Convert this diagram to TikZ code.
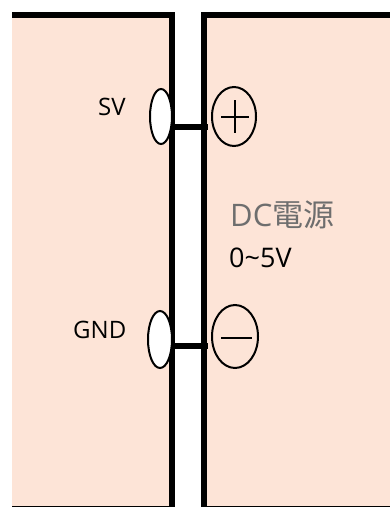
\documentclass[tikz,border=0pt]{standalone}
\usepackage{xcolor}
\usepackage{fontspec}
\setmainfont{Open Sans}
\newfontfamily\cjk{Noto Sans CJK TC}
\usepackage{tikz}
\usetikzlibrary{shapes.geometric}
\definecolor{panelfill}{RGB}{253,228,215}
\definecolor{dimtext}{RGB}{110,110,110}
\tikzset{
wall/.style={line width=6pt},
wire/.style={line width=6pt},
port/.style={draw,ellipse,fill=white,line width=2pt,inner sep=0pt},
jack/.style={draw,ellipse,line width=2pt,inner sep=0pt},
sign/.style={line width=2pt},
lbl/.style={inner sep=0pt,font=\fontsize{24}{28}\selectfont}
}
\begin{document}
\begin{tikzpicture}[x=1pt,y=-1pt]
\useasboundingbox (0,0) rectangle (390,507);
%panels
\fill[panelfill] (12,18) rectangle (169,506);
\fill[panelfill] (207,18) rectangle (390,506);
\draw[line width=1pt] (12,506.5) -- (169,506.5);
\draw[line width=1pt] (207,506.5) -- (390,506.5);
%walls
\coordinate (lefttop) at (12,15);
\coordinate (leftcorner) at (172,15);
\coordinate (leftbottom) at (172,507);
\coordinate (rightcorner) at (204,15);
\coordinate (rightend) at (390,15);
\coordinate (rightbottom) at (204,507);
\draw[wall,line join=miter] (lefttop) -- (leftcorner) -- (leftbottom);
\draw[wall,line join=miter] (rightend) -- (rightcorner) -- (rightbottom);
%wires
\coordinate (svtap) at (172,127);
\coordinate (svend) at (208,127);
\coordinate (gndtap) at (172,346);
\coordinate (gndend) at (208,346);
\draw[wire] (svtap) -- (svend);
\draw[wire] (gndtap) -- (gndend);
%ports
\node[port,minimum width=22pt,minimum height=55pt] (svport) at (161,116.5){};
\node[port,minimum width=24pt,minimum height=57pt] (gndport) at (160,339.5){};
\node[jack,minimum width=44pt,minimum height=59pt] (plusjack) at (234,116.5){};
\node[jack,minimum width=46pt,minimum height=63pt] (minusjack) at (235,336.5){};
\draw[sign] (221,116.5) -- (249,116.5);
\draw[sign] (235,100) -- (235,133);
\draw[sign] (221,338) -- (252,338);
%labels
\node[lbl,anchor=base west] (svlabel) at (98,115){SV};
\node[lbl,anchor=base west] (gndlabel) at (73,338){GND};
\node[lbl,anchor=base west,text=dimtext,font=\fontsize{31}{34}\selectfont] (dclabel) at (230,226){DC\cjk 電源};
\node[lbl,anchor=base west,font=\fontsize{27}{30}\selectfont] (rangelabel) at (229,267){0\char`~5V};
\end{tikzpicture}
\end{document}
